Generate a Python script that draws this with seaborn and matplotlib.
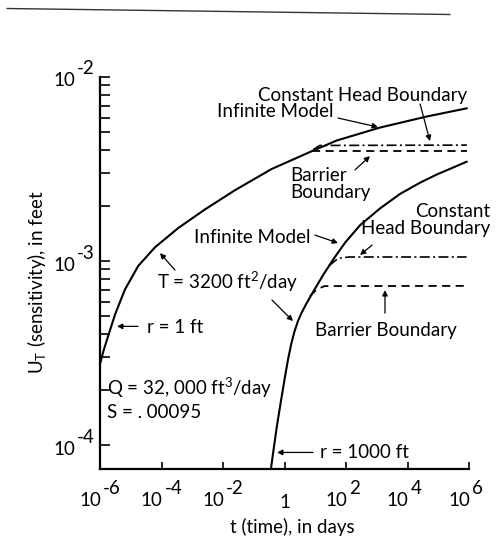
import numpy as np
import pandas as pd
import matplotlib
matplotlib.use("Agg")
import matplotlib.pyplot as plt
from matplotlib.lines import Line2D
from matplotlib.ticker import FixedLocator, NullFormatter, NullLocator
import seaborn as sns

# ---- data: log10 of time (days) and log10 of sensitivity U_T (feet) ----
# r = 1 ft, infinite model
r1_log_t = [-6.00, -5.89, -5.73, -5.51, -5.19, -4.75, -4.21, -3.45, -2.59,
            -1.61, -0.42, 0.93, 1.70, 3.10, 4.62, 5.93]
r1_log_u = [-3.56, -3.49, -3.405, -3.29, -3.155, -3.025, -2.925, -2.82, -2.72,
            -2.615, -2.50, -2.40, -2.345, -2.275, -2.215, -2.17]
# r = 1 ft, constant head boundary and barrier boundary
r1_ch_log_t = [0.93, 1.15, 5.93]
r1_ch_log_u = [-2.395, -2.372, -2.370]
r1_bb_log_t = [0.88, 5.93]
r1_bb_log_u = [-2.402, -2.402]

# r = 1000 ft, infinite model
r1000_log_t = [-0.45, -0.36, -0.25, -0.12, 0.02, 0.12, 0.22, 0.32, 0.44, 0.56,
               0.70, 0.94, 1.26, 1.59, 1.97, 2.46, 3.10, 3.76, 4.40, 4.95, 5.93]
r1000_log_u = [-4.14, -4.03, -3.90, -3.765, -3.625, -3.53, -3.45, -3.385, -3.325, -3.28,
               -3.235, -3.165, -3.075, -2.99, -2.90, -2.805, -2.715, -2.635, -2.575, -2.53, -2.46]
# r = 1000 ft, constant head boundary and barrier boundary
r1000_ch_log_t = [1.45, 1.75, 2.10, 5.92]
r1000_ch_log_u = [-3.025, -2.985, -2.978, -2.978]
r1000_bb_log_t = [0.83, 1.05, 1.30, 5.90]
r1000_bb_log_u = [-3.19, -3.155, -3.136, -3.135]

x_tick_exponents = [-6, -4, -2, 0, 2, 4, 6]
y_tick_exponents = [-4, -3, -2]

FONT = ["Lato", "DejaVu Sans"]
FS = 13.5

sns.set_style("ticks")
plt.rcParams["font.family"] = FONT
plt.rcParams["text.color"] = "black"
plt.rcParams["mathtext.fontset"] = "custom"
plt.rcParams["mathtext.rm"] = "Lato"
plt.rcParams["mathtext.it"] = "Lato"

fig = plt.figure(figsize=(5.0, 5.5), dpi=100)
ax = fig.add_axes([0.2, 1 - 469 / 550, 0.738, (469 - 77) / 550])


def draw(log_t, log_u, style, lw):
    df = pd.DataFrame({"t": 10.0 ** np.asarray(log_t), "u": 10.0 ** np.asarray(log_u)})
    sns.lineplot(data=df, x="t", y="u", ax=ax, color="black", lw=lw,
                 sort=False, estimator=None, linestyle=style)


DASHED = (0, (4.5, 3.0))
DASHDOT = (0, (6.0, 2.0, 1.2, 2.0))

draw(r1_log_t, r1_log_u, "-", 1.5)
draw(r1_ch_log_t, r1_ch_log_u, DASHDOT, 1.2)
draw(r1_bb_log_t, r1_bb_log_u, DASHED, 1.3)
draw(r1000_log_t, r1000_log_u, "-", 1.5)
draw(r1000_ch_log_t, r1000_ch_log_u, DASHDOT, 1.2)
draw(r1000_bb_log_t, r1000_bb_log_u, DASHED, 1.3)

ax.set_xscale("log")
ax.set_yscale("log")
ax.set_xlim(1e-6, 1e6)
ax.set_ylim(10 ** -4.13, 1e-2)
ax.set_xlabel("")
ax.set_ylabel("")

sns.despine(ax=ax)
for side in ("left", "bottom"):
    ax.spines[side].set_linewidth(1.6)
    ax.spines[side].set_color("black")

# ticks
ax.xaxis.set_major_locator(FixedLocator([10.0 ** e for e in x_tick_exponents]))
ax.xaxis.set_minor_locator(NullLocator())
ax.yaxis.set_major_locator(FixedLocator([10.0 ** e for e in y_tick_exponents]))
ax.yaxis.set_minor_locator(FixedLocator(
    [m * 10.0 ** e for e in (-4, -3) for m in range(2, 10)]))
ax.xaxis.set_major_formatter(NullFormatter())
ax.yaxis.set_major_formatter(NullFormatter())
ax.yaxis.set_minor_formatter(NullFormatter())
ax.tick_params(axis="x", which="major", direction="in", length=5, width=1.2, color="black")
ax.tick_params(axis="y", which="both", direction="in", length=7, width=1.2, color="black")

PX = 0.72  # points per pixel at 100 dpi


def power_label(xy, xycoords, base_off, exp_off, exponent):
    ax.annotate("10", xy=xy, xycoords=xycoords, xytext=base_off, textcoords="offset points",
                ha="right", va="center", fontsize=FS, annotation_clip=False)
    ax.annotate(f"-{abs(exponent)}" if exponent < 0 else f"{exponent}", xy=xy, xycoords=xycoords,
                xytext=exp_off, textcoords="offset points",
                ha="left", va="center", fontsize=FS, annotation_clip=False)


for e in x_tick_exponents:
    xy = (10.0 ** e, 0)
    xc = ("data", "axes fraction")
    if e == 0:
        ax.annotate("1", xy=xy, xycoords=xc, xytext=(0, -33 * PX), textcoords="offset points",
                    ha="center", va="center", fontsize=FS, annotation_clip=False)
    else:
        power_label(xy, xc, (1 * PX, -31 * PX), (3 * PX, -20 * PX), e)

for e in y_tick_exponents:
    xy = (0, 10.0 ** e)
    yc = ("axes fraction", "data")
    power_label(xy, yc, (-25 * PX, -4 * PX), (-23 * PX, 8 * PX), e)

# axis titles
fig.text(37 / 500, 1 - 282 / 550, r"U$_{\mathregular{T}}$ (sensitivity), in feet",
         rotation=90, ha="center", va="center", fontsize=FS)
fig.text(292 / 500, 1 - 527 / 550, "t (time), in days", ha="center", va="center", fontsize=FS)

# annotations (positions in log10 data units)
ARROW = dict(arrowstyle="-|>", lw=0.9, color="black", mutation_scale=8,
             shrinkA=0, shrinkB=0)


def note(text, lx, ly, ha="left", **kw):
    ax.text(10.0 ** lx, 10.0 ** ly, text, ha=ha, va="center", fontsize=FS, **kw)


def arrow(tail, tip):
    ax.annotate("", xy=(10.0 ** tip[0], 10.0 ** tip[1]),
                xytext=(10.0 ** tail[0], 10.0 ** tail[1]), arrowprops=ARROW)


note("Constant Head Boundary", 5.93, -2.098, ha="right")
arrow((4.41, -2.147), (4.73, -2.348))
note("Infinite Model", -2.195, -2.185)
arrow((1.74, -2.223), (3.04, -2.272))
note("Barrier\nBoundary", 0.18, -2.582, linespacing=1.0)
arrow((2.29, -2.505), (2.78, -2.43))

note("Constant\nHead Boundary", 6.68, -2.777, ha="right", linespacing=1.0,
     multialignment="right")
arrow((2.85, -2.913), (2.455, -2.967))
note("Infinite Model", 0.83, -2.87, ha="right")
arrow((0.99, -2.859), (1.74, -2.902))

note(r"T = 3200 ft$^{2}$/day", -4.146, -3.114)
arrow((-3.561, -3.049), (-4.049, -2.957))
arrow((-0.407, -3.212), (0.276, -3.326))

note("r = 1 ft", -4.47, -3.359)
arrow((-4.764, -3.355), (-5.447, -3.355))

note(r"Q = 32, 000 ft$^{3}$/day", -5.772, -3.690)
note("S = . 00095", -5.772, -3.821)

note("r = 1000 ft", 1.154, -4.043)
arrow((0.927, -4.040), (-0.244, -4.040))
note("Barrier Boundary", 0.992, -3.375)
arrow((3.268, -3.283), (3.268, -3.158))

# rule across the top of the page
fig.add_artist(Line2D([7 / 500, 450 / 500], [1 - 8.5 / 550, 1 - 14.5 / 550],
                      transform=fig.transFigure, color="#333333", lw=1.0))

fig.savefig("out.png", dpi=100)
